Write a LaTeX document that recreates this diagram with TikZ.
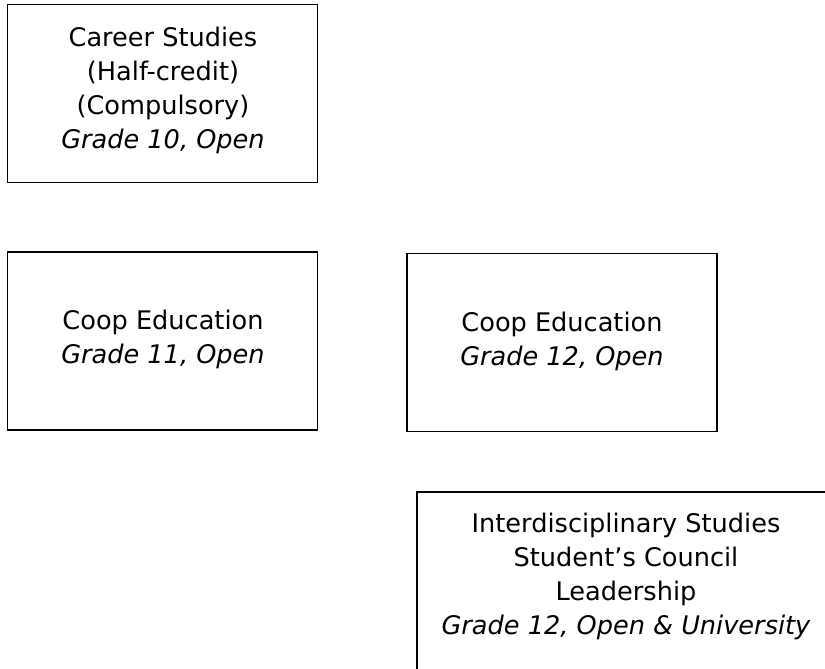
\documentclass[tikz,border=0pt]{standalone}
\usepackage{fontspec}
\setmainfont{DejaVu Sans}
\begin{document}
\begin{tikzpicture}[x=1pt,y=-1pt,
  txt/.style={font=\fontsize{25.6}{34}\selectfont, align=center, inner sep=0pt},
  box/.style={draw, line width=1.8pt, minimum width=310pt, minimum height=178pt, inner sep=0pt}]
\useasboundingbox (0,0) rectangle (825,669);
\clip (0,0) rectangle (825,669);
\node[box] (b1) at (162.5,93.5) {};
\node[txt] (t1) at (163,90.5) {Career Studies\\(Half-credit)\\(Compulsory)\\\itshape Grade 10, Open};
\node[box] (b2) at (162.5,341) {};
\node[txt] (t2) at (163,339.5) {Coop Education\\\itshape Grade 11, Open};
\node[box] (b3) at (562,342.5) {};
\node[txt] (t3) at (562,341) {Coop Education\\\itshape Grade 12, Open};
\node[txt] (b4) at (626,576) {Interdisciplinary Studies\\Student’s Council\\Leadership\\\itshape Grade 12, Open \& University};
\coordinate (c4a) at (417,690);
\coordinate (c4b) at (840,492);
\draw[line width=1.8pt] (c4a) |- (c4b);
\end{tikzpicture}
\end{document}
